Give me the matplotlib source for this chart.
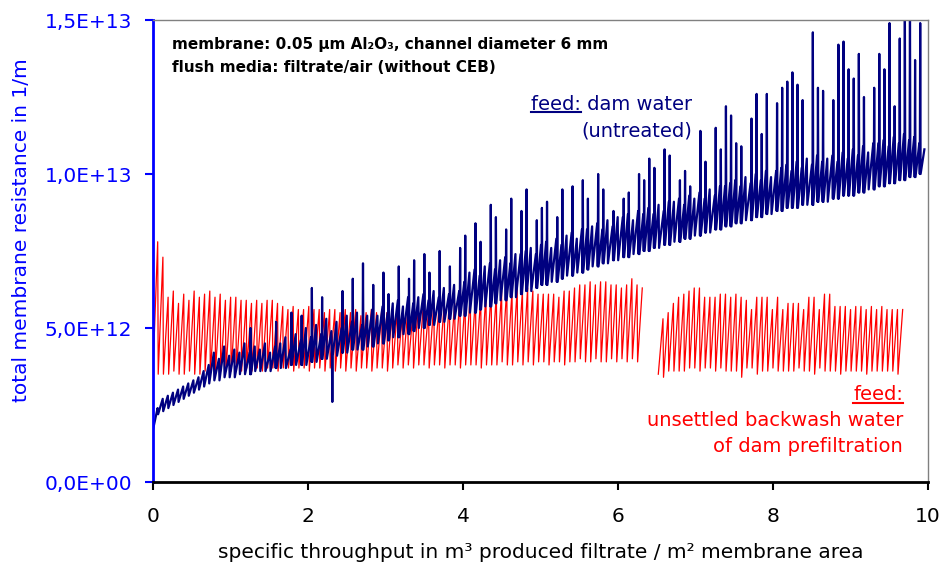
import numpy as np
import matplotlib
matplotlib.use("Agg")
import matplotlib.pyplot as plt

# ---------------- data (resistance values in units of 1E11 1/m) ----------------
UNIT = 1e11
# red series: feed = unsettled backwash water, two running periods
red_seg1_range = (0.0, 6.32)
red_seg1_peak = [78, 73,
                 60, 62, 58, 61, 59, 62, 60, 61, 62, 60, 61, 59, 60, 60,
                 59, 59, 58, 59, 58, 59, 59, 58, 57,
                 56, 57, 56, 56, 57, 56, 56, 55, 56, 56,
                 55, 56, 55, 56, 54, 55, 56, 55, 56, 55, 56, 56, 55,
                 56, 55, 57, 58, 56, 58, 57,
                 58, 59, 58, 60, 59, 61, 60,
                 60, 61, 62, 61, 62, 63, 62,
                 63, 62, 63, 62, 61, 61, 61,
                 61, 60, 62, 62, 63, 64, 64,
                 65, 64, 65, 65, 64, 64, 63,
                 64, 66, 64, 63]
red_seg1_low = [36, 35, 35, 35, 36, 35, 35, 36, 35, 35, 36, 35, 36, 36, 36, 36,
                36, 36, 37, 36, 37, 36, 37, 37, 36, 37, 37, 36, 37, 37, 36, 37, 37, 36, 37,
                36, 37, 36, 37, 36, 37, 37, 36, 37, 37, 36, 37, 38, 37, 38, 37, 38, 38, 37, 38,
                38, 37, 38, 38, 37, 38, 38, 38, 37, 38, 38, 38, 39, 38, 38, 39, 38, 39, 38, 39,
                39, 38, 39, 39, 38, 39, 39, 40, 39, 39, 40, 39, 39, 40, 39, 40, 39, 40, 39]
red_seg2_range = (6.52, 9.68)
red_seg2_peak = [53, 55, 58, 60, 61, 62, 63, 63, 60, 60, 60, 61, 61, 60, 61, 60,
                 59, 56, 60, 60, 60, 56, 60, 56, 58, 58, 58, 56, 60, 60, 56, 61,
                 61, 57, 57, 57, 56, 57, 57, 56, 57, 56, 57, 56, 56, 56, 56]
red_seg2_low = [35, 34, 36, 36, 36, 36, 37, 37, 36, 37, 37, 36, 37, 36, 36, 36,
                34, 37, 37, 35, 36, 36, 37, 36, 36, 36, 36, 37, 36, 36, 35, 37,
                36, 36, 36, 35, 36, 36, 36, 36, 35, 36, 36, 36, 36, 36, 35]

# navy series: feed = dam water (untreated); per filtration cycle
blue_range = (0.0, 9.96)
blue_low = [17, 22, 23, 24, 25, 26, 27, 28, 29, 30, 31, 32, 33, 33, 34, 34,
            34, 35, 35, 35, 36, 36, 36, 36, 37, 37, 37, 38, 38, 38, 38,
            39, 39, 40, 40, 41, 41, 42, 42, 43, 43,
            43, 44, 44, 45, 45, 46, 47, 47, 48, 48,
            49, 50, 50, 51, 51, 52, 52, 53, 53, 54,
            54, 55, 55, 56, 57, 57, 58, 59, 59, 60,
            60, 61, 62, 62, 63, 64, 64, 65, 65, 66,
            67, 67, 68, 68, 69, 70, 70, 71, 71, 72,
            72, 73, 73, 74, 74, 75, 75, 76, 76, 77,
            77, 78, 78, 79, 79, 80, 80, 81, 81, 82,
            82, 83, 83, 84, 84, 85, 85, 86, 86, 87,
            87, 88, 88, 89, 89, 89, 90, 90, 90, 91,
            91, 91, 92, 92, 93, 93, 93, 94, 94, 95,
            95, 96, 96, 97, 97, 98, 98, 99, 99, 100]
blue_high = [24, 27, 28, 29, 30, 31, 32, 33, 34, 36, 38, 42, 40, 44, 41, 43,
             42, 45, 42, 44, 43, 45, 42, 44, 45, 47, 43, 48, 46, 50, 47,
             51, 48, 53, 49, 52, 50, 54, 52, 55, 51,
             54, 56, 54, 57, 55, 58, 59, 57, 60, 58,
             60, 61, 59, 62, 60, 63, 61, 64, 62, 65,
             68, 69, 67, 70, 71, 69, 72, 73, 71, 74,
             74, 75, 76, 74, 77, 78, 76, 79, 77, 80,
             81, 79, 82, 82, 83, 84, 82, 85, 83, 86,
             86, 87, 85, 88, 87, 89, 87, 90, 88, 91,
             91, 92, 90, 93, 92, 94, 92, 95, 93, 96,
             96, 97, 98, 96, 99, 97, 100, 98, 101, 99,
             101, 102, 103, 101, 104, 102, 105, 103, 106, 104,
             105, 106, 104, 107, 105, 108, 106, 109, 107, 110,
             110, 111, 109, 112, 110, 113, 111, 112, 110, 108]
# spike value right after backwash (0 = no spike)
blue_spike = [0, 0, 0, 0, 0, 0, 0, 0, 0, 0, 0, 0, 0, 0, 0, 0,
              0, 0, 0, 50, 0, 0, 0, 0, 52, 0, 0, 55, 0, 54, 0,
              63, 0, 60, 0, 26, 0, 62, 0, 66, 0, 71, 0, 64, 0, 68, 61, 0, 70, 0, 66,
              72, 0, 74, 68, 0, 75, 0, 70, 0, 76,
              80, 0, 84, 78, 0, 90, 86, 0, 82, 92, 0, 88, 95, 0, 85,
              89, 91, 0, 86, 95, 0, 96, 0, 98, 92, 0, 100, 95, 0, 88,
              0, 92, 94, 0, 100, 98, 105, 102, 0, 108, 106, 0, 98, 101, 96,
              0, 114, 104, 0, 115, 108, 122, 119, 110, 109, 0, 118, 126, 113, 126,
              0, 123, 128, 130, 133, 129, 124, 0, 146, 128, 127, 0, 124, 142, 143,
              134, 131, 139, 125, 0, 128, 139, 134, 149, 122, 144, 155, 155, 137, 149]

x_ticks = [0, 2, 4, 6, 8, 10]
y_ticks = [0.0, 5.0e12, 1.0e13, 1.5e13]
y_tick_labels = ["0,0E+00", "5,0E+12", "1,0E+13", "1,5E+13"]

# ---------------- build paths ----------------
def sawtooth(rng, peaks, lows):
    n = len(peaks)
    p = (rng[1] - rng[0]) / n
    xs, ys = [], []
    for i in range(n):
        x0 = rng[0] + i * p
        xs += [x0, x0 + 0.9 * p]
        ys += [lows[i] * UNIT, peaks[i] * UNIT]
    return np.array(xs), np.array(ys)

def blue_path(rng, lows, highs, spikes):
    n = len(lows)
    p = (rng[1] - rng[0]) / n
    xs, ys = [], []
    for i in range(n):
        x0 = rng[0] + i * p
        xs.append(x0); ys.append(lows[i] * UNIT)
        if spikes[i]:
            xs += [x0 + 0.08 * p, x0 + 0.16 * p]
            ys += [spikes[i] * UNIT, lows[i] * UNIT]
        xs.append(x0 + 0.9 * p); ys.append(highs[i] * UNIT)
    return np.array(xs), np.array(ys)

plt.rcParams['font.family'] = ['DejaVu Sans']
fig = plt.figure(figsize=(9.41, 5.70), dpi=100)
ax = fig.add_axes([153 / 941, 1 - 482 / 570, (928 - 153) / 941, (482 - 20) / 570])

NAVY = "#000080"
RED = "#FF0000"
BLUE = "#0000FF"

x1, y1 = sawtooth(red_seg1_range, red_seg1_peak, red_seg1_low)
x2, y2 = sawtooth(red_seg2_range, red_seg2_peak, red_seg2_low)
ax.plot(x1, y1, color=RED, lw=0.9)
ax.plot(x2, y2, color=RED, lw=0.9)
xb, yb = blue_path(blue_range, blue_low, blue_high, blue_spike)
ax.plot(xb, yb, color=NAVY, lw=1.6)

ax.set_xlim(0, 10)
ax.set_ylim(0, 1.5e13)
ax.set_xticks(x_ticks)
ax.set_xticklabels([str(v) for v in x_ticks])
ax.set_yticks(y_ticks)
ax.set_yticklabels(y_tick_labels)

for s in ("top", "right"):
    ax.spines[s].set_color("#808080")
    ax.spines[s].set_linewidth(1.0)
ax.spines["left"].set_color(BLUE)
ax.spines["left"].set_linewidth(2.0)
ax.spines["bottom"].set_color("black")
ax.spines["bottom"].set_linewidth(2.0)

ax.tick_params(axis="x", direction="out", length=6, width=1.5, colors="black",
               labelsize=14.5, pad=12)
ax.tick_params(axis="y", direction="out", length=6, width=1.5, colors=BLUE,
               labelcolor=BLUE, labelsize=14.5, pad=9)

ax.set_xlabel("specific throughput in m³ produced filtrate / m² membrane area",
              fontsize=14.5)
ax.xaxis.set_label_coords(0.5, -(552 - 482) / 462, transform=ax.transAxes)
ax.set_ylabel("total membrane resistance in 1/m", fontsize=14.5, color=BLUE)
ax.yaxis.set_label_coords((22 - 153) / 775, (482 - 230) / 462)
ax.yaxis.label.set_va("center")
ax.xaxis.label.set_va("center")

# header annotation
ax.text(172, 570 - 44, "membrane: 0.05 µm Al₂O₃, channel diameter 6 mm",
        transform=None, fontsize=11, fontweight="bold", va="center", ha="left")
ax.text(172, 570 - 67, "flush media: filtrate/air (without CEB)",
        transform=None, fontsize=11, fontweight="bold", va="center", ha="left")

def underlined_label(x_right, y_center, rest, color):
    full = ax.text(x_right, 570 - y_center, "feed:" + rest, transform=None,
                   fontsize=14, color=color, ha="right", va="center")
    fig.canvas.draw()
    r = fig.canvas.get_renderer()
    bb = full.get_window_extent(r)
    tmp = ax.text(0, 0, "feed:", transform=None, fontsize=14, ha="left", va="center")
    w = tmp.get_window_extent(r).width
    tmp.remove()
    yline = bb.y0 + 2
    fig.add_artist(plt.Line2D([bb.x0, bb.x0 + w], [yline, yline], transform=None,
                              color=color, lw=1.5))

underlined_label(692, 104, " dam water", NAVY)
ax.text(692, 570 - 131, "(untreated)", transform=None, fontsize=14, color=NAVY,
        ha="right", va="center")

underlined_label(903, 395, "", RED)
ax.text(903, 570 - 421, "unsettled backwash water", transform=None, fontsize=14,
        color=RED, ha="right", va="center")
ax.text(903, 570 - 446, "of dam prefiltration", transform=None, fontsize=14,
        color=RED, ha="right", va="center")

fig.savefig("out.png", dpi=100)
